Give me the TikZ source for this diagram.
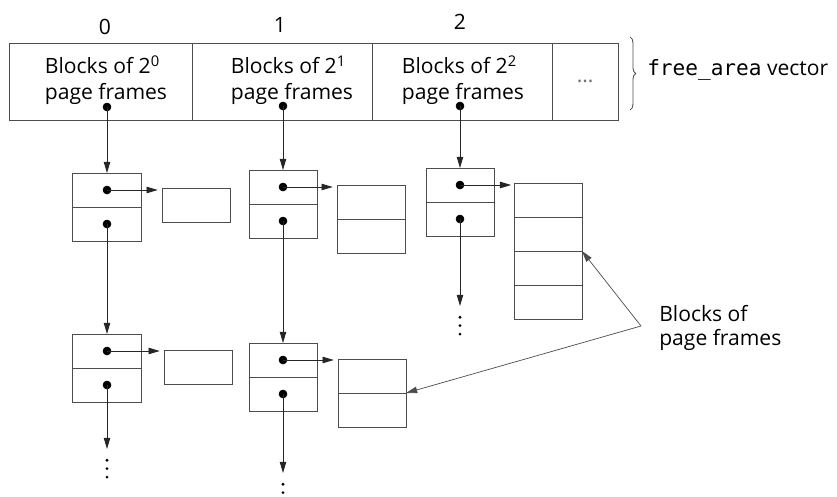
\documentclass[tikz,border=0pt]{standalone}
\usepackage{fontspec}
\setmainfont{Open Sans}
\setmonofont{DejaVu Sans Mono}
\usepackage{tikz}
\usetikzlibrary{positioning, arrows.meta, decorations.pathreplacing}
\tikzset{
  frm/.style={draw=black!70, line width=0.7pt, minimum width=1.7cm, minimum height=0.85cm, inner sep=0pt, outer sep=0pt},
  cell/.style={draw=black!70, line width=0.7pt, minimum height=1.925cm, inner sep=0pt, outer sep=0pt},
  ptr/.style={draw=black!85, line width=0.6pt, -{Triangle[length=8pt,width=4.6pt]}},
  txt/.style={font=\fontsize{15}{18.4}\selectfont, inner sep=0pt}}

\begin{document}
\begin{tikzpicture}[x=0.025cm, y=-0.025cm]
\useasboundingbox (0,0) rectangle (837,496);
% free_area vector
\node[cell, minimum width=4.55cm] (v0) at (101,81.5) {};
\node[cell, minimum width=4.5cm, right=0pt of v0] (v1) {};
\node[cell, minimum width=4.5cm, right=0pt of v1] (v2) {};
\node[cell, minimum width=1.65cm, right=0pt of v2, txt, text=black!55] (v3) {\dots};
\node[txt, align=left] (t0) at (106,80) {Blocks of 2\textsuperscript{0}\\page frames};
\node[txt, align=left] (t1) at (292,80) {Blocks of 2\textsuperscript{1}\\page frames};
\node[txt, align=left] (t2) at (463,80) {Blocks of 2\textsuperscript{2}\\page frames};
\node[txt] (i0) at (105,27) {0};
\node[txt] (i1) at (280,25) {1};
\node[txt] (i2) at (460,22) {2};
\draw[decorate, decoration={brace, amplitude=4pt}, black!70, line width=0.6pt]
  ([xshift=0.3cm, yshift=0.15cm]v3.north east) -- ([xshift=0.3cm, yshift=0.25cm]v3.south east);
\node[txt, anchor=west] (fav) at (647,70) {\texttt{free\_area} vector};
\coordinate (d0) at (107,107);
\coordinate (d1) at (283,106);
\coordinate (d2) at (460,106);
\draw [fill] (d0) circle (.1cm);
\draw [fill] (d1) circle (.1cm);
\draw [fill] (d2) circle (.1cm);

% lists, first row
\node[frm] (p0a) at (107,190) {};
\node[frm, below=0pt of p0a] (n0a) {};
\node[frm] (b0a) at (196,205) {};
\node[frm] (p1a) at (283,187) {};
\node[frm, below=0pt of p1a] (n1a) {};
\node[frm] (c1a) at (371,202) {};
\node[frm, below=0pt of c1a] (c1b) {};
\node[frm] (p2a) at (460,185) {};
\node[frm, below=0pt of p2a] (n2a) {};
\node[frm] (f2a) at (548,200) {};
\node[frm, below=0pt of f2a] (f2b) {};
\node[frm, below=0pt of f2b] (f2c) {};
\node[frm, below=0pt of f2c] (f2d) {};

% lists, second row
\node[frm] (p0b) at (107,351) {};
\node[frm, below=0pt of p0b] (n0b) {};
\node[frm] (b0b) at (198,367) {};
\node[frm] (p1b) at (283,360) {};
\node[frm, below=0pt of p1b] (n1b) {};
\node[frm] (g1a) at (372,376) {};
\node[frm, below=0pt of g1a] (g1b) {};

\coordinate (e0) at (107,449);
\coordinate (e1) at (283,473);
\coordinate (e2) at (460,306);

\foreach \n in {p0a,n0a,p1a,n1a,p2a,n2a,p0b,n0b,p1b,n1b}
  \draw [fill] (\n.center) circle (.1cm);

\draw[ptr] (d0) -- (p0a.north);
\draw[ptr] (d1) -- (p1a.north);
\draw[ptr] (d2) -- (p2a.north);
\draw[ptr] (n0a.center) -- (p0b.north);
\draw[ptr] (n1a.center) -- (p1b.north);
\draw[ptr] (n2a.center) -- (e2);
\draw[ptr] (n0b.center) -- (e0);
\draw[ptr] (n1b.center) -- (e1);
\draw[ptr, shorten >=3pt] (p0a.center) -- (p0a.center -| b0a.west);
\draw[ptr, shorten >=3pt] (p1a.center) -- (p1a.center -| c1a.west);
\draw[ptr, shorten >=2pt] (p2a.center) -- (p2a.center -| f2a.west);
\draw[ptr, shorten >=3pt] (p0b.center) -- (p0b.center -| b0b.west);
\draw[ptr, shorten >=3pt] (p1b.center) -- (p1b.center -| g1a.west);

\foreach \e in {e0,e1,e2}
  \foreach \k in {1,2,3}
    \fill ([yshift=-2pt-\k*6pt]\e) circle (1.1pt);

% label
\node[txt, anchor=west, align=left, font=\fontsize{15}{16.5}\selectfont] (lbl) at (659,328) {Blocks of\\page frames};
\coordinate (m) at (641,326);
\draw[ptr, draw=black!70, line width=0.5pt] (m) -- (f2b.south east);
\draw[ptr, draw=black!70, line width=0.5pt] (m) -- (g1a.south east);
\end{tikzpicture}
\end{document}
